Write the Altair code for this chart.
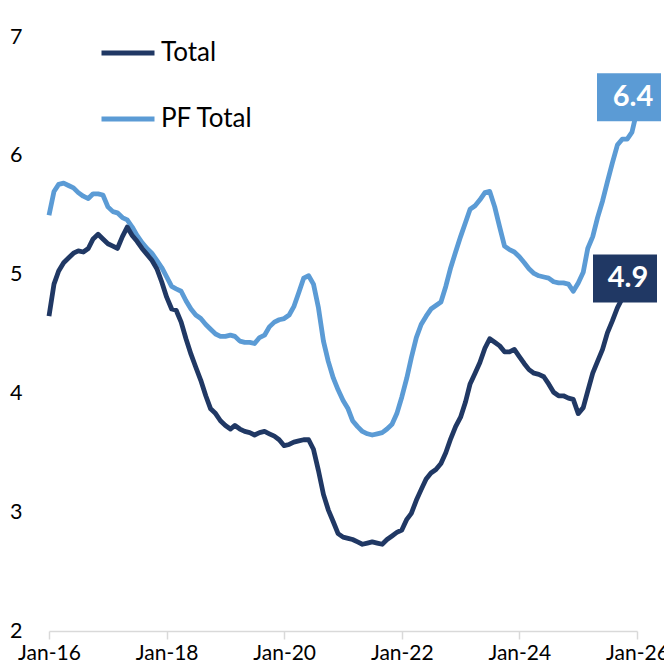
import altair as alt
import pandas as pd

# Monthly values, Jan-2016 .. Jan-2026
total = [
    4.65, 4.92, 5.03, 5.10, 5.14, 5.18, 5.20, 5.19, 5.22, 5.30, 5.34, 5.30,
    5.26, 5.24, 5.22, 5.32, 5.40, 5.33, 5.28, 5.22, 5.17, 5.12, 5.05, 4.94,
    4.81, 4.71, 4.70, 4.60, 4.46, 4.33, 4.22, 4.11, 3.98, 3.87, 3.83, 3.77,
    3.73, 3.70, 3.73, 3.70, 3.68, 3.67, 3.65, 3.67, 3.68, 3.66, 3.64, 3.61,
    3.56, 3.57, 3.59, 3.60, 3.61, 3.61, 3.53, 3.35, 3.15, 3.02, 2.92, 2.82,
    2.79, 2.78, 2.77, 2.75, 2.73, 2.74, 2.75, 2.74, 2.73, 2.77, 2.80, 2.83,
    2.85, 2.94, 2.99, 3.10, 3.19, 3.28, 3.33, 3.36, 3.41, 3.50, 3.62, 3.72,
    3.80, 3.93, 4.08, 4.17, 4.26, 4.38, 4.46, 4.43, 4.40, 4.35, 4.35, 4.37,
    4.31, 4.25, 4.20, 4.17, 4.16, 4.14, 4.08, 4.01, 3.98, 3.98, 3.96, 3.95,
    3.83, 3.88, 4.02, 4.17, 4.27, 4.37, 4.51, 4.61, 4.72, 4.80, 4.85, 4.88,
    4.90,
]
pf_total = [
    5.50, 5.70, 5.76, 5.77, 5.75, 5.73, 5.69, 5.66, 5.64, 5.68, 5.68, 5.67,
    5.57, 5.53, 5.52, 5.48, 5.46, 5.40, 5.33, 5.27, 5.22, 5.18, 5.12, 5.06,
    4.98, 4.90, 4.88, 4.86, 4.78, 4.71, 4.66, 4.63, 4.58, 4.54, 4.50, 4.48,
    4.48, 4.49, 4.48, 4.44, 4.43, 4.43, 4.42, 4.47, 4.49, 4.56, 4.60, 4.62,
    4.63, 4.66, 4.73, 4.85, 4.97, 4.99, 4.92, 4.72, 4.44, 4.27, 4.13, 4.03,
    3.94, 3.87, 3.77, 3.72, 3.68, 3.66, 3.65, 3.66, 3.67, 3.70, 3.74, 3.83,
    3.97, 4.13, 4.30, 4.47, 4.58, 4.65, 4.71, 4.74, 4.77, 4.90, 5.06, 5.19,
    5.32, 5.44, 5.55, 5.58, 5.63, 5.69, 5.70, 5.57, 5.40, 5.24, 5.21, 5.19,
    5.15, 5.10, 5.05, 5.01, 4.99, 4.98, 4.97, 4.94, 4.93, 4.93, 4.92, 4.86,
    4.93, 5.02, 5.22, 5.32, 5.48, 5.62, 5.78, 5.94, 6.09, 6.14, 6.14, 6.20,
    6.38,
]
series_names = ["Total", "PF Total"]
series_colors = ["#203864", "#5B9BD5"]
end_labels = ["4.9", "6.4"]
end_values = [4.9, 6.4]
y_ticks = [2, 3, 4, 5, 6, 7]
x_tick_years = [2016, 2018, 2020, 2022, 2024, 2026]

dates = list(pd.date_range("2016-01-01", periods=len(total), freq="MS").strftime("%Y-%m-%dT00:00:00"))

df_total = pd.DataFrame({"date": dates, "value": total, "series": series_names[0]})
df_pf = pd.DataFrame({"date": dates, "value": pf_total, "series": series_names[1]})

FONT = "Lato"

x_enc = alt.X(
    "date:T",
    scale=alt.Scale(domain=[alt.DateTime(year=2016, month=1, date=1),
                            alt.DateTime(year=2026, month=1, date=1)]),
    axis=alt.Axis(
        values=[alt.DateTime(year=y, month=1, date=1) for y in x_tick_years],
        format="%b-%y", title=None, grid=False, labelFlush=False,
        domainColor="#d9d9d9", domainWidth=1.5,
        tickColor="#d9d9d9", tickWidth=1.5, tickSize=8,
        labelPadding=3, labelFontSize=21, labelFont=FONT, labelColor="#000000",
    ),
)
y_enc = alt.Y(
    "value:Q",
    scale=alt.Scale(domain=[2, 7], nice=False, zero=False),
    axis=alt.Axis(
        values=y_ticks, format="d", title=None, grid=False, domain=False, ticks=False,
        labelPadding=27, labelFontSize=21.5, labelFont=FONT, labelColor="#000000",
    ),
)
color_enc = alt.Color(
    "series:N",
    scale=alt.Scale(domain=series_names, range=series_colors),
    legend=alt.Legend(
        title=None, orient="none", legendX=50, legendY=-13,
        symbolType="stroke", symbolStrokeWidth=5, symbolSize=2809,
        labelFontSize=26, labelFont=FONT, labelColor="#000000",
        labelOffset=4, rowPadding=24,
    ),
)

pf_line = alt.Chart(df_pf).mark_line(strokeWidth=4.8, strokeJoin="round").encode(
    x=x_enc, y=y_enc, color=color_enc)
total_line = alt.Chart(df_total).mark_line(strokeWidth=4.8, strokeJoin="round").encode(
    x=x_enc, y=y_enc, color=color_enc)

layers = [pf_line, total_line]
offsets = {"6.4": (-8, -11, -4), "4.9": (-12, -8, -9)}
for lab, val, col in zip(end_labels, end_values, series_colors):
    ldf = pd.DataFrame({"date": [dates[-1]], "value": [val], "text": [lab]})
    bx, by, tx = offsets[lab]
    box = alt.Chart(ldf).mark_rect(width=64, height=48, xOffset=bx, yOffset=by, color=col).encode(
        x="date:T", y="value:Q")
    txt = alt.Chart(ldf).mark_text(font=FONT, fontWeight="bold", fontSize=29, color="white",
                                   align="center", baseline="middle", dx=tx, dy=by).encode(
        x="date:T", y="value:Q", text="text:N")
    layers += [box, txt]

chart = alt.layer(*layers).properties(
    width=588, height=594,
    autosize=alt.AutoSizeParams(type="none"),
    padding={"left": 41, "top": 29, "right": 27, "bottom": 30},
    background="white",
).configure_view(stroke=None)

chart.save("out.html", embed_options={"renderer": "svg", "actions": False})
